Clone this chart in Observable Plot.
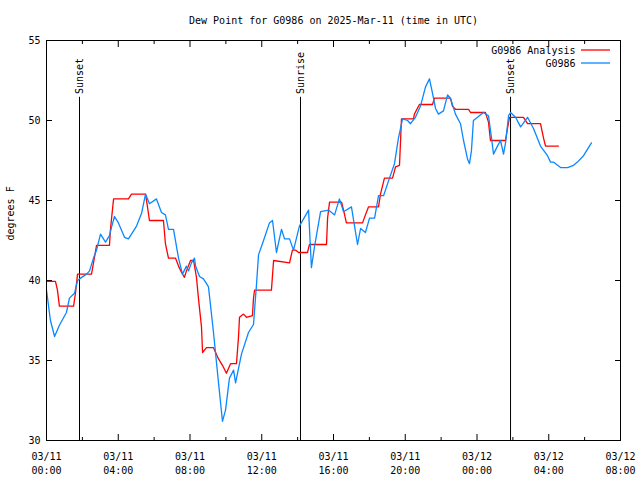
<!DOCTYPE html>
<html>
<head>
<meta charset="utf-8">
<script src="https://cdn.jsdelivr.net/npm/d3@7"></script>
<script src="https://cdn.jsdelivr.net/npm/@observablehq/plot@0.6"></script>
<style>
  html, body { margin: 0; padding: 0; background: #fff; }
  #chart svg { display: block; }
</style>
</head>
<body>
<div id="chart"></div>
<script>
// ---- Data (hours since 2025-03-11 00:00 UTC) ----
const titleText = "Dew Point for G0986 on 2025-Mar-11 (time in UTC)";
const yLabel = "degrees F";
const seriesNames = ["G0986 Analysis", "G0986"];

const obsHours = [0, 0.22, 0.45, 0.72, 1.11, 1.28, 1.56, 1.73, 1.84, 2.23, 2.40, 2.62, 2.79, 3.01, 3.29, 3.51, 3.62, 3.79,
  4.01, 4.35, 4.57, 5.02, 5.30, 5.52, 5.74, 6.13, 6.41, 6.63, 6.80, 7.08, 7.36, 7.58, 7.80, 7.92, 8.08, 8.25, 8.31,
  8.53, 8.75, 8.92, 9.03, 9.31, 9.59, 9.81, 9.98, 10.20, 10.43, 10.54, 10.87, 11.26, 11.54, 11.71, 11.82, 12.10,
  12.43, 12.60, 12.82, 13.10, 13.27, 13.55, 13.77, 14.10, 14.61, 14.77, 14.94, 15.28, 15.72, 16.06, 16.33, 16.56,
  17.00, 17.34, 17.51, 17.78, 18.01, 18.29, 18.51, 18.79, 19.12, 19.40, 19.62, 19.85, 20.13, 20.29, 20.57, 20.85,
  21.13, 21.35, 21.52, 21.69, 21.85, 22.13, 22.36, 22.52, 22.80, 23.08, 23.25, 23.47, 23.58, 23.69, 23.80, 24.03,
  24.36, 24.64, 24.81, 24.92, 25.14, 25.31, 25.48, 25.59, 25.76, 25.87, 26.15, 26.43, 26.82, 27.15, 27.54, 27.93,
  28.10, 28.26, 28.66, 29.05, 29.38, 29.60, 29.94, 30.38];
const obsValues = [39.4, 37.5, 36.5, 37.2, 38.0, 38.9, 39.2, 40.0, 40.1, 40.4, 40.6, 41.4, 41.9, 42.9, 42.4, 42.8, 43.3, 44.0,
  43.6, 42.7, 42.6, 43.4, 44.2, 45.4, 44.8, 45.1, 44.25, 44.1, 43.2, 43.2, 41.4, 40.4, 40.9, 40.6, 41.1, 41.4, 40.9,
  40.25, 40.1, 39.8, 39.6, 36.75, 33.6, 31.2, 31.9, 33.9, 34.4, 33.6, 35.4, 36.75, 37.25, 39.8, 41.6, 42.5,
  43.6, 43.75, 41.75, 43.2, 42.6, 42.6, 41.9, 43.4, 44.4, 40.8, 42.1, 44.3, 44.4, 44.1, 45.1, 44.3,
  44.6, 42.25, 43.25, 43.0, 43.9, 43.9, 45.3, 45.3, 46.4, 47.3, 48.9, 50.1, 50.0, 49.8, 50.2, 50.9,
  52.1, 52.6, 51.7, 50.75, 50.4, 50.6, 51.6, 51.4, 50.4, 49.8, 48.75, 47.6, 47.3, 48.1, 50.0, 50.2,
  50.5, 50.3, 48.9, 47.9, 48.4, 48.75, 47.9, 48.6, 50.3, 50.5, 50.2, 49.6, 50.2, 49.5, 48.4, 47.8,
  47.4, 47.4, 47.06, 47.06, 47.2, 47.4, 47.8, 48.6];

const anaHours = [0, 0.50, 0.61, 0.72, 1.51, 1.62, 1.73, 2.51, 2.62, 2.79, 3.51, 3.57, 3.74, 4.57, 4.74, 4.91, 5.52, 5.63,
  5.74, 6.52, 6.63, 6.80, 7.19, 7.36, 7.53, 7.69, 7.80, 8.03, 8.20, 8.36, 8.47, 8.64, 8.70, 8.92, 9.31, 9.59, 9.81,
  10.03, 10.26, 10.59, 10.70, 10.76, 10.98, 11.15, 11.48, 11.54, 11.60, 12.54, 12.66, 13.55, 13.71, 13.88, 14.05,
  14.55, 14.66, 15.61, 15.67, 15.78, 16.45, 16.56, 16.72, 17.62, 17.78, 17.95, 18.51, 18.62, 18.84, 19.29, 19.46,
  19.68, 19.79, 20.46, 20.51, 20.79, 21.52, 21.63, 21.80, 22.52, 22.63, 22.80, 23.53, 23.64, 24.47, 24.64, 24.75,
  25.59, 25.70, 25.81, 26.59, 26.82, 27.54, 27.71, 27.82, 28.54];
const anaValues = [39.94, 39.94, 39.4, 38.4, 38.4, 39.25, 40.4, 40.4, 41.1, 42.2, 42.2, 43.25, 45.1, 45.1, 45.4, 45.4, 45.4, 44.6,
  43.75, 43.75, 42.3, 41.4, 41.4, 40.9, 40.5, 40.2, 40.6, 41.25, 41.25, 40.2, 38.9, 37.1, 35.5, 35.8, 35.8, 35.1, 34.7,
  34.2, 34.8, 34.8, 36.4, 37.7, 37.9, 37.7, 37.8, 38.9, 39.4, 39.4, 41.25, 41.1, 41.9, 41.9, 41.75,
  41.75, 42.25, 42.25, 43.9, 44.9, 44.9, 44.4, 43.6, 43.6, 44.1, 44.6, 44.6, 45.4, 46.4, 46.4, 47.1,
  47.2, 50.1, 50.1, 50.4, 51.0, 51.0, 51.4, 51.4, 51.4, 50.9, 50.7, 50.7, 50.5, 50.5, 49.9, 48.75,
  48.75, 49.5, 50.2, 50.2, 49.8, 49.8, 48.9, 48.4, 48.4];

const eventHours = [1.84, 14.16, 25.87];
const eventLabels = ["Sunset", "Sunrise", "Sunset"];
const eventTop = 51.45;

const xMajorHours = [0, 4, 8, 12, 16, 20, 24, 28, 32];
const xMinorHours = [2, 6, 10, 14, 18, 22, 26, 30];
const yTicks = [30, 35, 40, 45, 50, 55];

// ---- Build ----
const base = Date.UTC(2025, 2, 11);
const toDate = h => new Date(base + h * 3600e3);
const obs = obsHours.map((h, i) => ({t: toDate(h), v: obsValues[i]}));
const ana = anaHours.map((h, i) => ({t: toDate(h), v: anaValues[i]}));
const events = eventHours.map((h, i) => ({t: toDate(h), label: eventLabels[i]}));
const xMajor = xMajorHours.map(toDate);
const xMinor = xMinorHours.map(toDate);
const fmtD = d3.utcFormat("%m/%d"), fmtT = d3.utcFormat("%H:%M");
const blank = () => "";
const FONT = "DejaVu Sans Mono";
const RED = "#ff0000", BLUE = "#0a88ff";

const chart = Plot.plot({
  width: 640, height: 480,
  marginLeft: 46, marginRight: 20, marginTop: 40, marginBottom: 40,
  style: {fontFamily: FONT, fontSize: "10px", background: "#fff", color: "#000", overflow: "visible"},
  x: {type: "utc", domain: [xMajor[0], xMajor[xMajor.length - 1]]},
  y: {domain: [30, 55]},
  marks: [
    // inward tick marks
    Plot.axisX({anchor: "bottom", ticks: xMajor, tickSize: 6, dy: -6, tickFormat: blank, label: null}),
    Plot.axisX({anchor: "bottom", ticks: xMinor, tickSize: 3, dy: -3, tickFormat: blank, label: null}),
    Plot.axisX({anchor: "top", ticks: xMajor, tickSize: 6, dy: 6, tickFormat: blank, label: null}),
    Plot.axisX({anchor: "top", ticks: xMinor, tickSize: 3, dy: 3, tickFormat: blank, label: null}),
    Plot.axisY({anchor: "left", ticks: yTicks, tickSize: 6, dx: 6, tickFormat: blank, label: null}),
    Plot.axisY({anchor: "right", ticks: yTicks, tickSize: 6, dx: -6, tickFormat: blank, label: null}),
    // tick labels
    Plot.axisX({anchor: "bottom", ticks: xMajor, tickSize: 0, tickPadding: 10, lineHeight: 1.4,
      tickFormat: d => fmtD(d) + "\n" + fmtT(d), label: null, fontSize: 10}),
    Plot.axisY({anchor: "left", ticks: yTicks, tickSize: 0, tickPadding: 6, label: null, fontSize: 10}),
    // event lines
    Plot.ruleX(events, {x: "t", y1: 30, y2: eventTop, stroke: "#000", strokeWidth: 1}),
    Plot.text(events, {x: "t", y: eventTop + 0.2, text: "label", rotate: -90, textAnchor: "start", fontSize: 10}),
    // series
    Plot.line(ana, {x: "t", y: "v", stroke: RED, strokeWidth: 1.3}),
    Plot.line(obs, {x: "t", y: "v", stroke: BLUE, strokeWidth: 1.3}),
    Plot.frame({stroke: "#000"}),
    // title & y label
    Plot.text([titleText], {frameAnchor: "top", lineAnchor: "middle", dy: -20, text: d => d, fontSize: 10}),
    Plot.text([yLabel], {frameAnchor: "left", dx: -36, rotate: -90, text: d => d, fontSize: 10}),
    // legend text
    Plot.text([seriesNames[0]], {frameAnchor: "top-right", lineAnchor: "middle", dx: -45, dy: 10, textAnchor: "end", text: d => d, fontSize: 10}),
    Plot.text([seriesNames[1]], {frameAnchor: "top-right", lineAnchor: "middle", dx: -45, dy: 23, textAnchor: "end", text: d => d, fontSize: 10})
  ]
});

// legend line samples
const svg = d3.select(chart);
[[RED, 50], [BLUE, 63]].forEach(([c, y]) => {
  svg.append("line").attr("x1", 581).attr("x2", 610).attr("y1", y).attr("y2", y)
    .attr("stroke", c).attr("stroke-width", 1.3);
});

document.getElementById("chart").appendChild(chart);
</script>
</body>
</html>
